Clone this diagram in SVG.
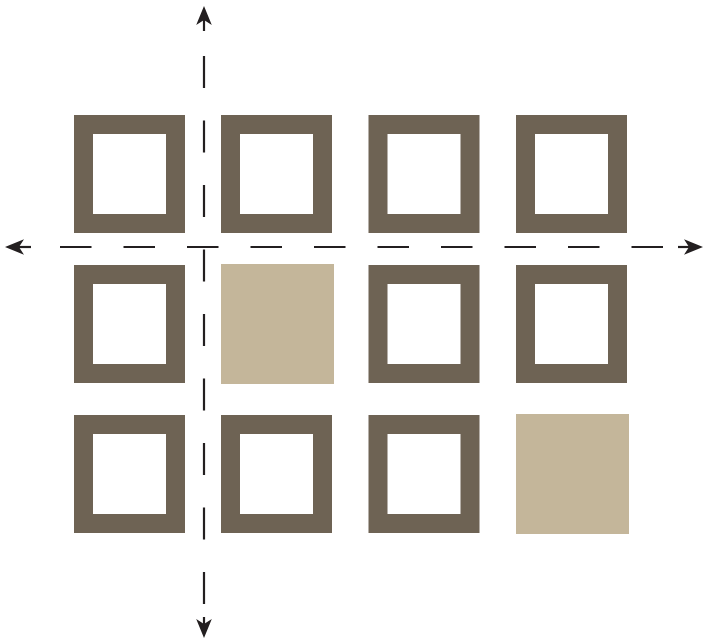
<svg xmlns="http://www.w3.org/2000/svg" width="706" height="643" viewBox="0 0 706 643">
<style>
.frame{fill:none;stroke:#6e6354;stroke-width:19}
.solid{fill:#c4b69a}
.axis{stroke:#231f20;stroke-width:2.2;fill:none}
.hdash{stroke-dasharray:31.5 32}
.vdash{stroke-dasharray:32 32.5}
</style>
<defs>
<marker id="ah" markerUnits="userSpaceOnUse" viewBox="-6 -8.5 21 17" markerWidth="21" markerHeight="17" refX="0" refY="0" orient="auto" overflow="visible">
<path d="M14,0 L-5,-7.8 L0,0 L-5,7.8 Z" fill="#231f20"/>
</marker>
</defs>
<rect width="706" height="643" fill="#ffffff"/>
<g id="cell-1-1"><rect class="frame" x="83.5" y="124.5" width="92" height="99"/></g>
<g id="cell-1-2"><rect class="frame" x="230.5" y="124.5" width="92" height="99"/></g>
<g id="cell-1-3"><rect class="frame" x="378" y="124.5" width="92" height="99"/></g>
<g id="cell-1-4"><rect class="frame" x="525.5" y="124.5" width="92" height="99"/></g>
<g id="cell-2-1"><rect class="frame" x="83.5" y="274.5" width="92" height="99"/></g>
<g id="cell-2-2"><rect class="solid" x="221" y="264" width="113" height="120"/></g>
<g id="cell-2-3"><rect class="frame" x="378" y="274.5" width="92" height="99"/></g>
<g id="cell-2-4"><rect class="frame" x="525.5" y="274.5" width="92" height="99"/></g>
<g id="cell-3-1"><rect class="frame" x="83.5" y="424.5" width="92" height="99"/></g>
<g id="cell-3-2"><rect class="frame" x="230.5" y="424.5" width="92" height="99"/></g>
<g id="cell-3-3"><rect class="frame" x="378" y="424.5" width="92" height="99"/></g>
<g id="cell-3-4"><rect class="solid" x="516" y="414" width="113" height="120"/></g>
<g id="connectors">
<line class="axis hdash" x1="60" y1="247" x2="663" y2="247"/>
<line class="axis vdash" x1="204" y1="56" x2="204" y2="604"/>
<line class="axis" x1="31" y1="247" x2="19" y2="247" marker-end="url(#ah)"/>
<line class="axis" x1="678" y1="247" x2="689" y2="247" marker-end="url(#ah)"/>
<line class="axis" x1="204" y1="31" x2="204" y2="20" marker-end="url(#ah)"/>
<line class="axis" x1="204" y1="617" x2="204" y2="624" marker-end="url(#ah)"/>
</g>
</svg>
